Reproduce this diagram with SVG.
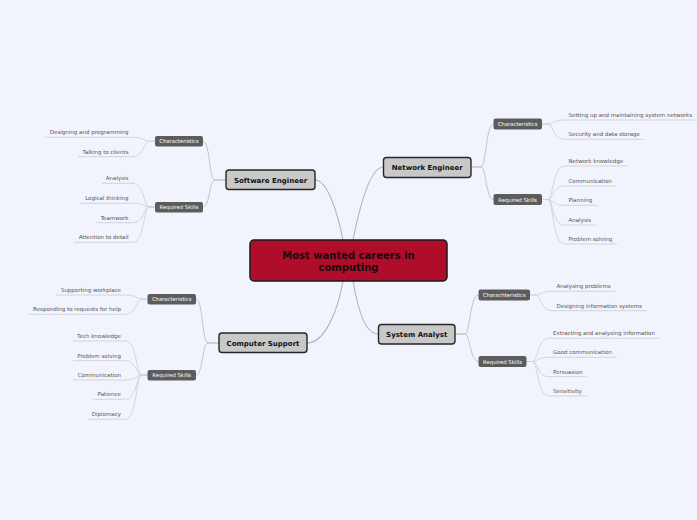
<svg xmlns="http://www.w3.org/2000/svg" width="697" height="520" viewBox="0 0 697 520">
<style>
.main rect{fill:#c8c8c8;stroke:#262626;stroke-width:1.4}
.main text{font-family:"DejaVu Sans",Verdana,sans-serif;font-weight:bold;font-size:7px;fill:#111;text-anchor:middle}
.sub rect{fill:#5c5c5c}
.sub text{font-family:"DejaVu Sans",Verdana,sans-serif;font-size:5.3px;fill:#fff;text-anchor:middle}
.leaf text{font-family:"DejaVu Sans",Verdana,sans-serif;font-size:5.5px;fill:#555}
.leaf.l text{text-anchor:end}
.c1{fill:none;stroke:#b4b4b4;stroke-width:1.1}
.c2{fill:none;stroke:#c4c4c4;stroke-width:1}
.c3{fill:none;stroke:#d0d0d0;stroke-width:0.9}
</style>
<rect width="697" height="520" fill="#f1f4fd"/>
<g id="connectors">
<path class="c1" d="M315 180C328 180 338 215 343 240"/>
<path class="c1" d="M353 240C360 205 370 167 383.5 167"/>
<path class="c1" d="M343 281C338 310 325 343 307 343"/>
<path class="c1" d="M353 281C358 310 365 334 378.5 334"/>
<path class="c2" d="M226 180H215C209 180 210 141.2 203 141.2"/>
<path class="c2" d="M226 180H215C209 180 210 207 203 207"/>
<path class="c2" d="M471 167H481C486 167 486 124 493.5 124"/>
<path class="c2" d="M471 167H481C486 167 486 199.5 493.5 199.5"/>
<path class="c2" d="M219 343H208C202 343 203 299 196 299"/>
<path class="c2" d="M219 343H208C202 343 203 375 196 375"/>
<path class="c2" d="M455 334H465C470 334 470 295 478.5 295"/>
<path class="c2" d="M455 334H465C470 334 470 361.5 478.5 361.5"/>
<path class="c3" d="M155 141.2H149C144 141.2 144 137.3 133 137.3H45"/>
<path class="c3" d="M155 141.2H149C144 141.2 144 156.7 133 156.7H78"/>
<path class="c3" d="M155 207H149C144 207 144 183.3 133 183.3H102"/>
<path class="c3" d="M155 207H149C144 207 144 203.3 133 203.3H80"/>
<path class="c3" d="M155 207H149C144 207 144 222.7 133 222.7H96"/>
<path class="c3" d="M155 207H149C144 207 144 242.3 133 242.3H74"/>
<path class="c3" d="M147.5 299H141.5C136.5 299 136.5 295 125.5 295H56"/>
<path class="c3" d="M147.5 299H141.5C136.5 299 136.5 314.3 125.5 314.3H28"/>
<path class="c3" d="M147.5 375H141.5C136.5 375 136.5 341 125.5 341H73"/>
<path class="c3" d="M147.5 375H141.5C136.5 375 136.5 360.7 125.5 360.7H73"/>
<path class="c3" d="M147.5 375H141.5C136.5 375 136.5 380 125.5 380H72.7"/>
<path class="c3" d="M147.5 375H141.5C136.5 375 136.5 399.3 125.5 399.3H93"/>
<path class="c3" d="M147.5 375H141.5C136.5 375 136.5 419.3 125.5 419.3H88"/>
<path class="c3" d="M542 124H548C553 124 553 120 564 120H697"/>
<path class="c3" d="M542 124H548C553 124 553 139.3 564 139.3H644"/>
<path class="c3" d="M542 199.5H548C553 199.5 553 166 564 166H627"/>
<path class="c3" d="M542 199.5H548C553 199.5 553 186 564 186H616"/>
<path class="c3" d="M542 199.5H548C553 199.5 553 205.3 564 205.3H597"/>
<path class="c3" d="M542 199.5H548C553 199.5 553 225 564 225H596"/>
<path class="c3" d="M542 199.5H548C553 199.5 553 244 564 244H617"/>
<path class="c3" d="M530 295H536C541 295 541 291.3 552 291.3H615"/>
<path class="c3" d="M530 295H536C541 295 541 310.7 552 310.7H647"/>
<path class="c3" d="M526.5 361.5H532.5C537.5 361.5 537.5 338.3 548.5 338.3H659"/>
<path class="c3" d="M526.5 361.5H532.5C537.5 361.5 537.5 357.3 548.5 357.3H617"/>
<path class="c3" d="M526.5 361.5H532.5C537.5 361.5 537.5 376.7 548.5 376.7H587"/>
<path class="c3" d="M526.5 361.5H532.5C537.5 361.5 537.5 396 548.5 396H587"/>
</g>
<g id="central">
<rect x="250" y="240" width="197" height="41" rx="4" fill="#b00d2a" stroke="#1a1a1a" stroke-width="1.5"/>
<text font-family="DejaVu Sans,Verdana,sans-serif" font-weight="bold" font-size="10" fill="#1a0a0a" text-anchor="middle"><tspan x="348.5" y="258.5">Most wanted careers in</tspan><tspan x="348.5" y="270.5">computing</tspan></text>
</g>
<g id="software-engineer" class="main"><rect x="226" y="170" width="89" height="19.5" rx="3"/><text x="270.5" y="182.5">Software Engineer</text></g>
<g id="network-engineer" class="main"><rect x="383.5" y="157.5" width="87.5" height="20" rx="3"/><text x="427.2" y="170">Network Engineer</text></g>
<g id="computer-support" class="main"><rect x="219" y="333" width="88" height="19.5" rx="3"/><text x="263" y="345.5">Computer Support</text></g>
<g id="system-analyst" class="main"><rect x="378.5" y="324.5" width="76.5" height="19.5" rx="3"/><text x="416.7" y="336.8">System Analyst</text></g>
<g id="se-char" class="sub"><rect x="155" y="136" width="48" height="10.5" rx="2"/><text x="179" y="143.2">Characteristics</text></g>
<g id="se-req" class="sub"><rect x="155" y="202" width="48" height="10.5" rx="2"/><text x="179" y="209.2">Required Skills</text></g>
<g id="ne-char" class="sub"><rect x="493.5" y="118.5" width="48.5" height="11" rx="2"/><text x="517.7" y="126">Characteristics</text></g>
<g id="ne-req" class="sub"><rect x="493.5" y="194" width="48.5" height="11" rx="2"/><text x="517.7" y="201.5">Required Skills</text></g>
<g id="cs-char" class="sub"><rect x="147.5" y="294" width="48.5" height="10.5" rx="2"/><text x="171.7" y="301.2">Characteristics</text></g>
<g id="cs-req" class="sub"><rect x="147.5" y="370" width="48.5" height="10.5" rx="2"/><text x="171.7" y="377.2">Required Skills</text></g>
<g id="sa-char" class="sub"><rect x="478.5" y="289.5" width="51.5" height="11" rx="2"/><text x="504.2" y="297">Charachteristics</text></g>
<g id="sa-req" class="sub"><rect x="478.5" y="356" width="48" height="11" rx="2"/><text x="502.5" y="363.5">Required Skills</text></g>
<g id="se-leaves" class="leaf l">
<text x="128.5" y="134.3">Designing and programming</text>
<text x="128.5" y="153.7">Talking to clients</text>
<text x="128.5" y="180.3">Analysis</text>
<text x="128.5" y="200.3">Logical thinking</text>
<text x="128.5" y="219.7">Teamwork</text>
<text x="128.5" y="239.3">Attention to detail</text>
</g>
<g id="cs-leaves" class="leaf l">
<text x="121" y="292">Supporting workplace</text>
<text x="121" y="311.3">Responding to requests for help</text>
<text x="121" y="338">Tech knowledge</text>
<text x="121" y="357.7">Problem solving</text>
<text x="121" y="377">Communication</text>
<text x="121" y="396.3">Patience</text>
<text x="121" y="416.3">Diplomacy</text>
</g>
<g id="ne-leaves" class="leaf">
<text x="568.5" y="117">Setting up and maintaining system networks</text>
<text x="568.5" y="136.3">Security and data storage</text>
<text x="568.5" y="163">Network knowledge</text>
<text x="568.5" y="183">Communication</text>
<text x="568.5" y="202.3">Planning</text>
<text x="568.5" y="222">Analysis</text>
<text x="568.5" y="241">Problem solving</text>
</g>
<g id="sa-leaves" class="leaf">
<text x="556.5" y="288.3">Analysing problems</text>
<text x="556.5" y="307.7">Designing information systems</text>
<text x="553" y="335.3">Extracting and analysing information</text>
<text x="553" y="354.3">Good communication</text>
<text x="553" y="373.7">Persuasion</text>
<text x="553" y="393">Sensitivity</text>
</g>
</svg>
